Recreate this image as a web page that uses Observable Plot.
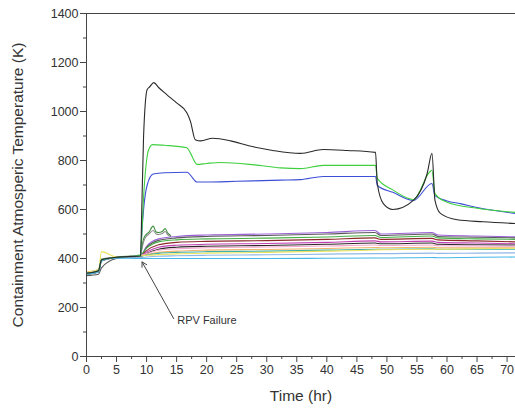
<!DOCTYPE html>
<html>
<head>
<meta charset="utf-8">
<script src="https://cdn.jsdelivr.net/npm/d3@7"></script>
<script src="https://cdn.jsdelivr.net/npm/@observablehq/plot@0.6"></script>
<style>
  html, body { margin: 0; padding: 0; background: #fff; }
  #chart svg { display: block; }
</style>
</head>
<body>
<div id="chart"></div>
<script>
// ---- Tick values ----
const xMajorTicks = [0, 5, 10, 15, 20, 25, 30, 35, 40, 45, 50, 55, 60, 65, 70];
const xMinorTicks = [2.5, 7.5, 12.5, 17.5, 22.5, 27.5, 32.5, 37.5, 42.5, 47.5, 52.5, 57.5, 62.5, 67.5];
const yMajorTicks = [0, 200, 400, 600, 800, 1000, 1200, 1400];
const yMinorTicks = [100, 300, 500, 700, 900, 1100, 1300];

// ---- Lower bundle of curves (shared time grid, hr) ----
const bundleTime = [0, 2, 2.5, 5, 9, 10, 12, 15, 20, 30, 40, 48, 49, 57.5, 58.5, 65, 71.4];
const purpleK   = [345, 352, 395, 405, 412, 450, 480, 490, 496, 500, 506, 514, 500, 506, 496, 492, 488];
const darkGrayK = [330, 336, 362, 400, 410, 445, 474, 484, 490, 494, 500, 506, 494, 500, 490, 487, 484];
const greenK    = [340, 350, 398, 406, 414, 442, 468, 476, 480, 483, 488, 494, 486, 492, 484, 480, 478];
const darkRedK  = [338, 348, 392, 404, 410, 432, 456, 466, 470, 473, 478, 484, 478, 482, 476, 472, 468];
const magentaK  = [342, 350, 394, 405, 411, 426, 446, 454, 458, 461, 466, 472, 468, 471, 466, 463, 460];
const blackK    = [335, 345, 390, 403, 408, 420, 438, 446, 450, 453, 458, 463, 460, 463, 458, 456, 455];
const pinkK     = [345, 355, 396, 406, 412, 420, 434, 440, 444, 447, 451, 455, 453, 455, 452, 451, 450];
const orangeK   = [340, 350, 395, 405, 410, 416, 425, 430, 434, 437, 441, 445, 444, 446, 444, 444, 444];
const tealK     = [338, 348, 393, 404, 409, 414, 421, 425, 428, 430, 434, 438, 438, 440, 438, 438, 438];
const yellowK   = [345, 355, 428, 406, 411, 413, 416, 419, 422, 425, 430, 435, 436, 438, 438, 440, 442];
const lightBlueK= [336, 346, 392, 402, 404, 406, 409, 411, 413, 415, 418, 420, 420, 422, 421, 422, 423];
const cyanK     = [336, 346, 392, 402, 400, 400, 400, 400, 400, 400, 401, 402, 402, 404, 403, 405, 406];

const bundleNames  = ["purple", "darkGray", "green", "darkRed", "magenta", "black", "pink", "orange", "teal", "yellow", "lightBlue", "cyan"];
const bundleValues = [purpleK, darkGrayK, greenK, darkRedK, magentaK, blackK, pinkK, orangeK, tealK, yellowK, lightBlueK, cyanK];
const bundleColors = ["#9a62d6", "#5a5a5a", "#45b045", "#8e2a2a", "#c23fb4", "#2a2a2a", "#f2a6cc", "#f3b36e", "#3fb3aa", "#ece25e", "#8fb8e6", "#45b8e8"];

// ---- Short spiky curves just after RPV failure ----
const spikeTime   = [9, 9.5, 10, 10.3, 11.1, 11.6, 12, 12.6, 13.1, 13.5, 14];
const spikeGreenK = [412, 480, 500, 505, 532, 508, 506, 510, 522, 505, 494];
const spikeGrayK  = [410, 468, 492, 498, 514, 500, 498, 502, 510, 498, 490];

// ---- High-temperature curves ----
const highBlackTime = [0, 2, 2.5, 5, 9, 9.2, 9.5, 10.1, 10.5, 11.2, 12, 13.4, 15, 16.7, 17.3, 18.1, 19, 21, 24, 27, 31, 35.6, 39.4, 43.4, 48.1, 48.4, 49.4, 51, 54.4, 56.7, 57.5, 58, 58.9, 61.7, 66, 71.4];
const highBlackK    = [340, 350, 395, 405, 410, 600, 900, 1090, 1100, 1118, 1098, 1068, 1035, 995, 960, 885, 880, 891, 880, 860, 841, 829, 845, 841, 833, 706, 624, 600, 637, 747, 829, 637, 584, 558, 550, 543];

const highGreenTime = [0, 2, 2.5, 5, 9, 9.2, 9.5, 10, 10.3, 11, 13, 16.7, 17.3, 18.4, 20, 22.3, 28, 32.3, 35.6, 39.4, 48.1, 48.4, 51, 54.4, 57.5, 58, 60, 65, 71.4];
const highGreenK    = [340, 350, 395, 405, 412, 500, 650, 800, 841, 865, 862, 852, 830, 784, 788, 792, 782, 770, 767, 780, 780, 727, 680, 641, 759, 665, 630, 605, 588];

const highBlueTime  = [0, 2, 2.5, 5, 9, 9.2, 9.5, 10.1, 11.1, 13, 16.8, 17.3, 18.4, 20, 25, 32.3, 35.6, 39.4, 48.1, 48.4, 51, 54.4, 57.5, 58, 60, 62.2, 65, 71.4];
const highBlueK     = [340, 350, 395, 405, 412, 500, 600, 700, 745, 750, 752, 740, 712, 712, 715, 720, 722, 735, 735, 698, 670, 637, 706, 657, 635, 624, 608, 584];

// ---- Annotation ----
const annotText = ["RPV Failure"];
const arrowFrom = {t: 14.5, k: 155};
const arrowTo   = {t: 9.25, k: 386};
const textAt    = {t: 15.1, k: 147};

// ---- Build rows ----
const rows = [];
bundleValues.forEach((vals, i) => {
  vals.forEach((v, j) => rows.push({series: bundleNames[i], color: bundleColors[i], t: bundleTime[j], k: v}));
});
spikeGreenK.forEach((v, j) => rows.push({series: "spikeGreen", color: "#3f8f3f", t: spikeTime[j], k: v}));
spikeGrayK.forEach((v, j) => rows.push({series: "spikeGray", color: "#8a8a8a", t: spikeTime[j], k: v}));
highBlueK.forEach((v, j) => rows.push({series: "highBlue", color: "#3d4fd6", t: highBlueTime[j], k: v}));
highGreenK.forEach((v, j) => rows.push({series: "highGreen", color: "#3fcf3f", t: highGreenTime[j], k: v}));
highBlackK.forEach((v, j) => rows.push({series: "highBlack", color: "#2a2a2a", t: highBlackTime[j], k: v}));

const font = "'Liberation Sans', Arial, sans-serif";
const ink = "#333";

const chart = Plot.plot({
  width: 515,
  height: 415,
  marginLeft: 86,
  marginRight: 0,
  marginTop: 13,
  marginBottom: 59,
  style: {fontFamily: font, fontSize: "12px", color: ink, background: "#fff"},
  x: {domain: [0, 71.4]},
  y: {domain: [0, 1400]},
  marks: [
    Plot.line(rows, {x: "t", y: "k", z: "series", stroke: "color", strokeWidth: 1.1, curve: "monotone-x"}),
    Plot.ruleY([1400], {stroke: "#444", strokeWidth: 1}),
    Plot.ruleY([0], {stroke: "#444", strokeWidth: 1}),
    Plot.ruleX([0], {stroke: "#444", strokeWidth: 1}),
    Plot.axisY(yMajorTicks, {tickSize: 6, tickPadding: 2, tickFormat: d => String(d), label: null, stroke: "#444", fontSize: 12.5}),
    Plot.axisY(yMinorTicks, {tickSize: 3, tickFormat: () => "", label: null, stroke: "#444"}),
    Plot.axisX(xMajorTicks, {tickSize: 6, tickPadding: 3, tickFormat: d => String(d), label: null, stroke: "#444", fontSize: 12.5}),
    Plot.axisX(xMinorTicks, {tickSize: 3, tickFormat: () => "", label: null, stroke: "#444"}),
    Plot.text(["Containment Atmosperic Temperature (K)"], {frameAnchor: "left", dx: -68, rotate: -90, textAnchor: "middle", fontSize: 15.5, fill: ink}),
    Plot.text(["Time (hr)"], {frameAnchor: "bottom", dy: 44, fontSize: 15.5, fill: ink}),
    Plot.arrow([0], {x1: () => arrowFrom.t, y1: () => arrowFrom.k, x2: () => arrowTo.t, y2: () => arrowTo.k, stroke: "#444", strokeWidth: 1, headLength: 8}),
    Plot.text(annotText, {x: () => textAt.t, y: () => textAt.k, textAnchor: "start", fontSize: 11, fill: ink})
  ]
});
document.getElementById("chart").appendChild(chart);
</script>
</body>
</html>
